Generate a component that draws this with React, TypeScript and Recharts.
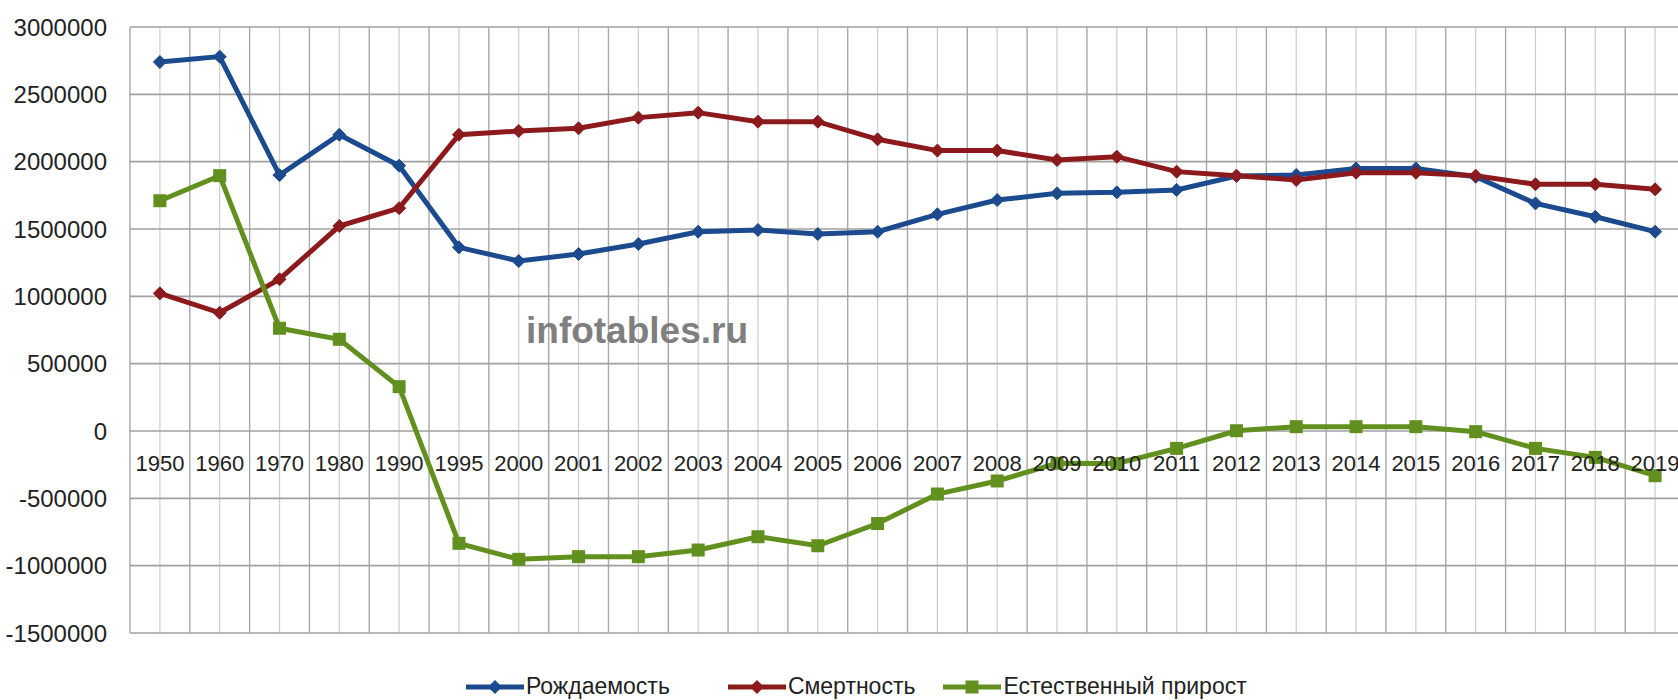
import React from 'react';
import { ComposedChart, Line, XAxis, YAxis, CartesianGrid, Legend } from 'recharts';

const years = ['1950', '1960', '1970', '1980', '1990', '1995', '2000', '2001', '2002', '2003', '2004', '2005', '2006', '2007', '2008', '2009', '2010', '2011', '2012', '2013', '2014', '2015', '2016', '2017', '2018', '2019'];
const births = [2740000, 2780000, 1900000, 2200000, 1970000, 1364000, 1262000, 1314000, 1389000, 1480000, 1493000, 1463000, 1480000, 1609000, 1715000, 1765000, 1772000, 1790000, 1893000, 1901000, 1950000, 1950000, 1888000, 1690000, 1591000, 1480000];
const deaths = [1022000, 878000, 1127000, 1522000, 1655000, 2200000, 2228000, 2248000, 2327000, 2364000, 2297000, 2297000, 2166000, 2082000, 2082000, 2012000, 2037000, 1926000, 1896000, 1864000, 1918000, 1918000, 1896000, 1832000, 1832000, 1795000];
const growth = [1710000, 1896000, 763000, 681000, 329000, -834000, -953000, -933000, -933000, -884000, -785000, -852000, -687000, -468000, -371000, -240000, -241000, -129000, 2000, 32000, 32000, 32000, -5000, -129000, -196000, -332000];
const yTicks = [-1500000, -1000000, -500000, 0, 500000, 1000000, 1500000, 2000000, 2500000, 3000000];
const seriesNames = ['Рождаемость', 'Смертность', 'Естественный прирост'];
const seriesColors = ['#1c4a8e', '#8c1a1c', '#62901e'];
const watermark = 'infotables.ru';

const data = years.map((y, i) => ({ year: y, births: births[i], deaths: deaths[i], growth: growth[i] }));

const W = 1690;
const H = 700;
const TOP = 27;
const LEFT = 130;
const RIGHT = 5;
const LEGEND_H = 66;
const XAXIS_H = 1;
const PLOT_H = H - TOP - LEGEND_H - XAXIS_H;
const Y_MIN = -1500000;
const Y_MAX = 3000000;
const FONT = '"Liberation Sans", Arial, sans-serif';

const zeroY = TOP + (PLOT_H * (Y_MAX - 0)) / (Y_MAX - Y_MIN);

const XTick = (props: any) => {
  const { x, payload } = props;
  return (
    <text x={x} y={zeroY + 40} textAnchor="middle" fontSize={22} fontFamily={FONT} fill="#222">
      {payload.value}
    </text>
  );
};

const Diamond = (color: string) => (props: any) => {
  const { cx, cy, index } = props;
  if (cx == null || cy == null) return <g key={index} />;
  const r = 6.5;
  return <polygon key={index} points={`${cx},${cy - r} ${cx + r},${cy} ${cx},${cy + r} ${cx - r},${cy}`} fill={color} stroke={color} strokeWidth={1} />;
};

const Square = (color: string) => (props: any) => {
  const { cx, cy, index } = props;
  if (cx == null || cy == null) return <g key={index} />;
  const s = 13;
  return <rect key={index} x={cx - s / 2} y={cy - s / 2} width={s} height={s} fill={color} />;
};

const bandCount = years.length;

const boundaryGen = (args: any) => {
  const off = args && args.offset ? args.offset : {};
  const left = off.left ?? LEFT;
  const width = off.width ?? W - LEFT - RIGHT;
  const bw = width / bandCount;
  const out: number[] = [];
  for (let i = 0; i <= bandCount; i++) out.push(left + i * bw);
  return out;
};

const centerGen = (args: any) => {
  const off = args && args.offset ? args.offset : {};
  const left = off.left ?? LEFT;
  const width = off.width ?? W - LEFT - RIGHT;
  const bw = width / bandCount;
  const out: number[] = [];
  for (let i = 0; i < bandCount; i++) out.push(left + (i + 0.5) * bw);
  return out;
};

const LegendIcon = ({ color, square }: { color: string; square: boolean }) => (
  <svg width={58} height={20} style={{ display: 'block' }}>
    <line x1={0} y1={10} x2={58} y2={10} stroke={color} strokeWidth={5} />
    {square ? (
      <rect x={22.5} y={3.5} width={13} height={13} fill={color} />
    ) : (
      <polygon points="29,3 36,10 29,17 22,10" fill={color} />
    )}
  </svg>
);

const legendGaps = [58, 28, 0];

const LegendContent = () => (
  <div style={{ width: W, height: LEGEND_H, position: 'relative', boxSizing: 'border-box', paddingTop: 39, paddingLeft: 466 }}>
    <div style={{ display: 'flex', alignItems: 'center', height: 27 }}>
      {seriesNames.map((n, i) => (
        <div key={n} style={{ display: 'flex', alignItems: 'center', marginRight: legendGaps[i], height: 27 }}>
          <LegendIcon color={seriesColors[i]} square={i === 2} />
          <span style={{ fontFamily: FONT, fontSize: 23, color: '#222', marginLeft: 2, lineHeight: '27px', whiteSpace: 'nowrap' }}>{n}</span>
        </div>
      ))}
    </div>
  </div>
);

export default function App() {
  return (
    <div style={{ position: 'relative', width: 1678, height: 700, overflow: 'hidden', background: '#fff' }}>
      <style>{'body{margin:0;background:#fff;}'}</style>
      <ComposedChart width={W} height={H} data={data} margin={{ top: TOP, right: RIGHT, bottom: 0, left: 0 }}>
        <CartesianGrid horizontal={false} vertical={true} stroke="#cdcdcd" strokeWidth={1.2} verticalCoordinatesGenerator={centerGen} />
        <CartesianGrid horizontal={false} vertical={true} stroke="#a8a8a8" strokeWidth={1.4} verticalCoordinatesGenerator={boundaryGen} />
        <CartesianGrid horizontal={true} vertical={false} stroke="#a0a0a0" strokeWidth={1.6} />
        <XAxis dataKey="year" scale="band" height={XAXIS_H} axisLine={false} tickLine={false} interval={0} tick={(p: any) => <XTick {...p} />} />
        <YAxis
          width={LEFT}
          domain={[Y_MIN, Y_MAX]}
          ticks={yTicks}
          interval={0}
          axisLine={false}
          tickLine={false}
          tickSize={0}
          tickMargin={23}
          tick={{ fontSize: 24, fontFamily: FONT, fill: '#222' }}
        />
        <Legend verticalAlign="bottom" height={LEGEND_H} wrapperStyle={{ left: 0, bottom: 0, width: W, height: LEGEND_H }} content={<LegendContent />} />
        <Line type="linear" dataKey="births" name={seriesNames[0]} stroke={seriesColors[0]} strokeWidth={5} dot={Diamond(seriesColors[0])} activeDot={false} isAnimationActive={false} />
        <Line type="linear" dataKey="deaths" name={seriesNames[1]} stroke={seriesColors[1]} strokeWidth={5} dot={Diamond(seriesColors[1])} activeDot={false} isAnimationActive={false} />
        <Line type="linear" dataKey="growth" name={seriesNames[2]} stroke={seriesColors[2]} strokeWidth={5} dot={Square(seriesColors[2])} activeDot={false} isAnimationActive={false} />
      </ComposedChart>
      <div
        style={{
          position: 'absolute',
          left: 526,
          top: 312,
          fontFamily: FONT,
          fontWeight: 'bold',
          fontSize: 37,
          lineHeight: '37px',
          color: '#7f7f7f',
          whiteSpace: 'nowrap',
        }}
      >
        {watermark}
      </div>
    </div>
  );
}
